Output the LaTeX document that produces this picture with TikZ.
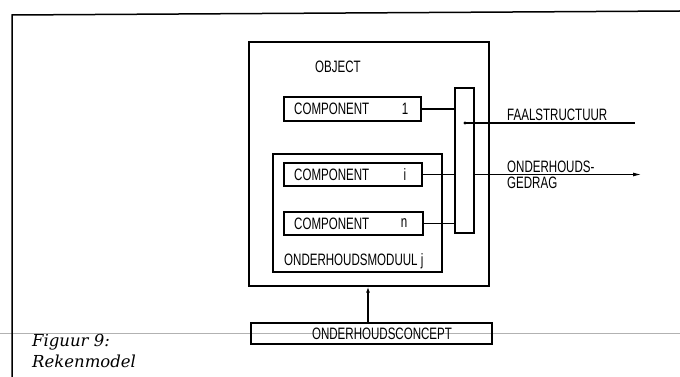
\documentclass[tikz,border=0pt]{standalone}
\usepackage{fontspec}
\setsansfont{Liberation Sans}[FakeStretch=0.70]
\newfontfamily\capfont{DejaVu Serif}
\usetikzlibrary{arrows.meta}
\begin{document}
\begin{tikzpicture}[x=1pt,y=-1pt,
  box/.style={draw,line width=1.4pt,inner sep=0pt,rectangle},
  lbl/.style={font=\sffamily\fontsize{16.5}{18}\selectfont,inner sep=0pt},
  wire/.style={line width=1.4pt},
  figcap/.style={font=\capfont\itshape\fontsize{16.5}{20}\selectfont,inner sep=0pt,anchor=base west}]
\useasboundingbox (0,0) rectangle (680,377);
% outer frame and grey rule
\coordinate (fr0) at (12,15);
\coordinate (fr1) at (12,377);
\coordinate (fr2) at (680,11);
\coordinate (gr0) at (0,333);
\coordinate (gr1) at (680,333);
\draw[gray!60,line width=1pt] (gr0) -- (gr1);
\draw[line width=1.5pt] (fr1) -- (fr0) -- (fr2);
% boxes
\node[box,minimum width=240,minimum height=244] (obj) at (369,164) {};
\node[box,minimum width=137,minimum height=24] (comp1) at (352.5,109) {};
\node[box,minimum width=169,minimum height=118] (mod) at (357.5,213) {};
\node[box,minimum width=138,minimum height=23] (compi) at (353,174.5) {};
\node[box,minimum width=139,minimum height=23] (compn) at (353.5,223.5) {};
\node[box,minimum width=19,minimum height=145] (bar) at (464.5,160.5) {};
\node[box,minimum width=241,minimum height=21] (conc) at (371.5,333.5) {};
% labels
\node[lbl] (objt) at (338,67) {OBJECT};
\node[lbl,anchor=west] (c1t) at (294,109) {COMPONENT};
\node[lbl] (c1n) at (405,109) {1};
\node[lbl,anchor=west] (cit) at (294,174.5) {COMPONENT};
\node[lbl] (cin) at (405,174.5) {i};
\node[lbl,anchor=west] (cnt) at (294,223.5) {COMPONENT};
\node[lbl] (cnn) at (404,223.5) {n};
\node[lbl,anchor=base west] (modt) at (284,265) {ONDERHOUDSMODUUL j};
\node[lbl] (conct) at (382,333.5) {ONDERHOUDSCONCEPT};
\node[lbl,anchor=base west] (faal) at (507,121) {FAALSTRUCTUUR};
\node[lbl,anchor=base west] (og1) at (507,172.5) {ONDERHOUDS-};
\node[lbl,anchor=base west] (og2) at (507,189) {GEDRAG};
% connectors
\draw[wire] (comp1.east) -- (comp1.east -| bar.west);
\draw[wire] (compi.east) -- (compi.east -| bar.west);
\draw[wire] (compn.east) -- (compn.east -| bar.west);
\coordinate (og0) at (bar.east |- compi.east);
\coordinate (oge) at (642,174.5);
\draw[wire,-{Latex[length=9pt,width=4pt]}] (og0) -- (oge);
\coordinate (fs0) at (465,123);
\coordinate (fs1) at (635,123);
\draw[wire] (fs0) -- (fs1);
\fill (fs0) circle (1.6pt);
\coordinate (cx) at (368,0);
\draw[wire,-{Latex[length=6pt,width=4pt]}] (conc.north -| cx) -- (obj.south -| cx);
% caption
\node[figcap] (fig1) at (32,346) {Figuur 9:};
\node[figcap] (fig2) at (32,367) {Rekenmodel};
\end{tikzpicture}
\end{document}
